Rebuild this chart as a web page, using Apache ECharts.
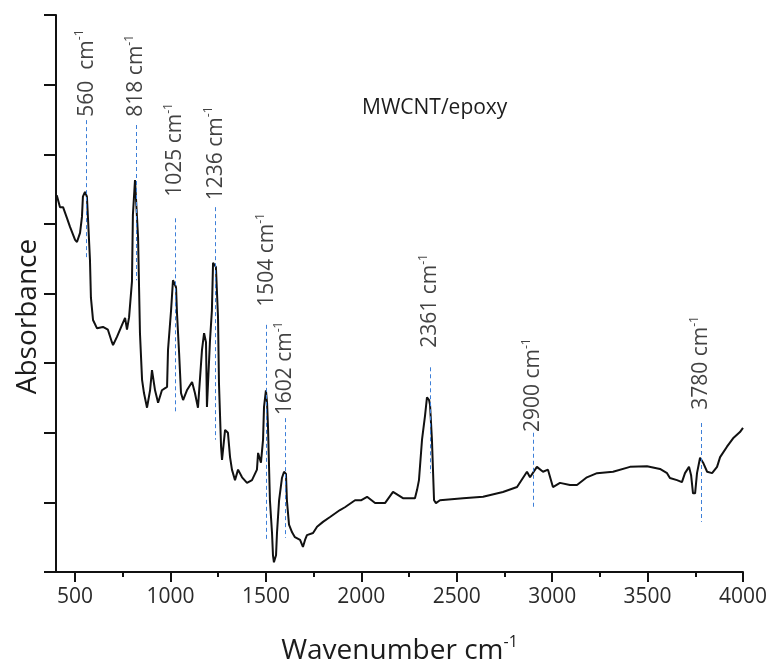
<!DOCTYPE html>
<html>
<head>
<meta charset="utf-8">
<title>MWCNT/epoxy FTIR</title>
<script src="https://cdn.jsdelivr.net/npm/echarts@6/dist/echarts.min.js"></script>
<style>
  html, body { margin: 0; padding: 0; background: #fff; }
  #chart { width: 771px; height: 662px; }
</style>
</head>
<body>
<div id="chart"></div>
<script>
// spectrum (absorbance in arbitrary units, 0..8 on the frame)
const wavenumber = [
  404, 421, 437, 458, 473, 500, 510, 526, 536, 541, 552, 562, 568, 578, 583, 594,
  615, 646, 672, 693, 699, 720, 746, 762, 772, 783, 798, 803, 814, 824, 830, 840,
  851, 861, 877, 893, 903, 919, 935, 955, 982, 987, 1003, 1013, 1029, 1034, 1045, 1055,
  1066, 1086, 1113, 1128, 1144, 1165, 1176, 1186, 1191, 1207, 1217, 1223, 1238, 1249, 1254, 1265,
  1270, 1286, 1301, 1312, 1322, 1338, 1354, 1375, 1401, 1427, 1453, 1459, 1474, 1485, 1490, 1500,
  1506, 1511, 1521, 1532, 1537, 1542, 1553, 1558, 1569, 1584, 1595, 1605, 1610, 1621, 1637, 1652,
  1679, 1694, 1705, 1715, 1747, 1768, 1799, 1836, 1888, 1914, 1967, 1998, 2030, 2072, 2124, 2166,
  2218, 2281, 2292, 2302, 2318, 2334, 2344, 2355, 2360, 2370, 2381, 2391, 2412, 2533, 2638, 2742,
  2816, 2868, 2884, 2920, 2952, 2978, 3004, 3041, 3093, 3130, 3182, 3235, 3319, 3408, 3497, 3565,
  3602, 3617, 3654, 3680, 3696, 3717, 3728, 3738, 3749, 3759, 3775, 3791, 3812, 3838, 3864, 3880,
  3916, 3948, 3984, 4000
];
const absorbance = [
  5.41, 5.24, 5.24, 5.08, 4.96, 4.77, 4.74, 4.87, 5.10, 5.39, 5.46, 5.39, 5.06, 4.48, 3.94, 3.62,
  3.50, 3.52, 3.48, 3.30, 3.26, 3.38, 3.55, 3.65, 3.48, 3.66, 4.17, 5.13, 5.63, 5.63, 4.81, 3.43,
  2.76, 2.57, 2.36, 2.61, 2.90, 2.61, 2.43, 2.61, 2.66, 3.19, 3.76, 4.19, 4.09, 3.72, 3.15, 2.57,
  2.47, 2.61, 2.73, 2.57, 2.36, 3.19, 3.43, 3.30, 2.37, 3.33, 3.76, 4.44, 4.38, 3.66, 2.71, 1.80,
  1.61, 2.04, 2.00, 1.65, 1.47, 1.32, 1.47, 1.36, 1.28, 1.32, 1.47, 1.71, 1.57, 1.90, 2.37, 2.61,
  2.43, 2.08, 1.03, 0.56, 0.24, 0.14, 0.24, 0.56, 1.03, 1.35, 1.44, 1.41, 1.03, 0.68, 0.57, 0.50,
  0.46, 0.36, 0.46, 0.53, 0.56, 0.65, 0.72, 0.79, 0.89, 0.93, 1.03, 1.03, 1.08, 0.99, 0.99, 1.15,
  1.06, 1.06, 1.18, 1.32, 1.90, 2.25, 2.51, 2.47, 2.40, 1.90, 1.03, 0.99, 1.03, 1.06, 1.08, 1.15,
  1.22, 1.44, 1.36, 1.51, 1.44, 1.47, 1.22, 1.28, 1.25, 1.25, 1.36, 1.42, 1.44, 1.51, 1.52, 1.48,
  1.42, 1.35, 1.32, 1.29, 1.42, 1.51, 1.39, 1.13, 1.13, 1.42, 1.64, 1.57, 1.44, 1.42, 1.51, 1.65,
  1.80, 1.92, 2.01, 2.07
];

// marked bands
const peakPos = [560, 818, 1025, 1236, 1504, 1602, 2361, 2900, 3780];
const peakText = ['560  cm', '818 cm', '1025 cm', '1236 cm', '1504 cm', '1602 cm', '2361 cm', '2900 cm', '3780 cm'];
const peakLabelBase = [6.54, 6.54, 5.39, 5.34, 3.81, 2.25, 3.22, 2.01, 2.33];
const peakLineTop = [6.49, 6.42, 5.08, 5.24, 3.55, 2.21, 2.94, 2.00, 2.14];
const peakLineBottom = [4.51, 4.19, 2.28, 1.90, 0.46, 0.49, 1.42, 0.92, 0.72];

// x ticks
const xMajorTicks = [500, 1000, 1500, 2000, 2500, 3000, 3500, 4000];
const xMinorTicks = [750, 1250, 1750, 2250, 2750, 3250, 3750];

const FONT = '"Open Sans", "Noto Sans", sans-serif';
const INK = '#1c1c1c';

const chart = echarts.init(document.getElementById('chart'), null, { renderer: 'canvas' });

const spectrum = wavenumber.map((w, i) => [w, absorbance[i]]);

const option = {
    animation: false,
    backgroundColor: '#fff',
    grid: { left: 56, right: 28, top: 15, bottom: 90, containLabel: false, outerBoundsMode: 'none' },
    xAxis: [
        {
            type: 'value',
            min: 400,
            max: 4000,
            name: 'Wavenumber cm{s|-1}',
            nameLocation: 'middle',
            nameGap: 62,
            nameTextStyle: {
                fontFamily: FONT, fontSize: 28, color: INK, lineHeight: 34,
                rich: { s: { fontFamily: FONT, fontSize: 16, color: INK, verticalAlign: 'top', lineHeight: 17 } }
            },
            axisLine: { show: true, lineStyle: { color: '#111', width: 2 } },
            axisTick: { show: true, inside: false, length: 10, lineStyle: { color: '#111', width: 2 }, customValues: xMajorTicks },
            axisLabel: {
                show: true, customValues: xMajorTicks, margin: 15,
                fontFamily: FONT, fontSize: 21, color: '#2a2a2a',
                formatter: v => String(v)
            },
            splitLine: { show: false }
        },
        {
            // minor ticks only
            type: 'value',
            min: 400,
            max: 4000,
            position: 'bottom',
            axisLine: { show: false },
            axisTick: { show: true, length: 5, lineStyle: { color: '#111', width: 2 }, customValues: xMinorTicks },
            axisLabel: { show: false },
            splitLine: { show: false }
        }
    ],
    yAxis: {
        type: 'value',
        min: 0,
        max: 8,
        interval: 1,
        name: 'Absorbance',
        nameLocation: 'middle',
        nameGap: 14,
        nameTextStyle: { fontFamily: FONT, fontSize: 28, color: INK, padding: [0, 46, 0, 0] },
        axisLine: { show: true, lineStyle: { color: '#111', width: 2 } },
        axisTick: { show: true, inside: false, length: 12, lineStyle: { color: '#111', width: 2 } },
        axisLabel: { show: false },
        splitLine: { show: false }
    },
    graphic: [
        {
            type: 'text',
            left: 362,
            top: 98,
            style: { text: 'MWCNT/epoxy', font: '21px "Open Sans", sans-serif', fill: INK }
        }
    ],
    series: [
        {
            type: 'line',
            name: 'MWCNT/epoxy',
            data: spectrum,
            showSymbol: false,
            symbol: 'none',
            lineStyle: { color: '#111', width: 2 },
            silent: true,
            z: 3
        },
        {
            type: 'scatter',
            name: 'bands',
            data: peakPos.map((p, i) => [p, peakLabelBase[i]]),
            symbolSize: 1,
            itemStyle: { color: 'rgba(0,0,0,0)' },
            silent: true,
            z: 4,
            label: {
                show: true,
                position: 'inside',
                align: 'left',
                verticalAlign: 'middle',
                rotate: 90,
                color: INK,
                formatter: p => '{n|' + peakText[p.dataIndex] + '}{s|-1}',
                rich: {
                    n: { fontFamily: FONT, fontSize: 21, color: '#111', lineHeight: 25 },
                    s: { fontFamily: FONT, fontSize: 12, color: '#111', verticalAlign: 'top', lineHeight: 12 }
                }
            },
            markLine: {
                silent: true,
                symbol: 'none',
                label: { show: false },
                lineStyle: { color: '#3d7fd8', width: 1, type: [4, 3] },
                data: peakPos.map((p, i) => [
                    { coord: [p, peakLineTop[i]] },
                    { coord: [p, peakLineBottom[i]] }
                ])
            }
        }
    ]
};

chart.setOption(option);
</script>
</body>
</html>
